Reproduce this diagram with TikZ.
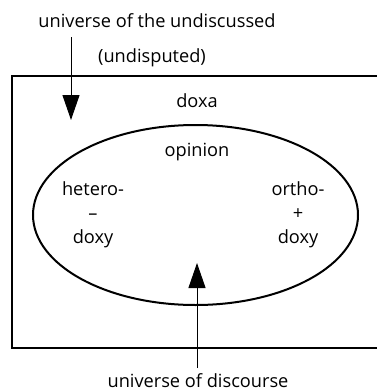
\documentclass[tikz,border=0pt]{standalone}
\usepackage{fontspec}
\setmainfont{Open Sans}
\usetikzlibrary{arrows.meta}

\begin{document}
\begin{tikzpicture}[x=1pt, y=-1pt, font=\fontsize{18.2}{24}\selectfont,
  label/.style={anchor=base, inner sep=0pt},
  doxy/.style={align=center, inner sep=0pt},
  pointer/.style={line width=1pt, -{Triangle[width=17pt, length=25pt]}}]

\useasboundingbox (0,0) rectangle (377,391);
\clip (0,0) rectangle (377,391);

% Field of doxa (right side runs off the page)
\draw[line width=2pt] (390,76) -- (12,76) -- (12,348) -- (390,348);

% Opinion (ellipse)
\draw[line width=2pt] (195.5,215) ellipse (162.5 and 90);

% Labels
\node[label] (undiscussed) at (157,27) {universe of the undiscussed};
\node[label] (undisputed) at (152,62) {(undisputed)};
\node[label] (doxa) at (197,107) {doxa};
\node[label] (opinion) at (197,156) {opinion};
\node[doxy] (hetero) at (93,215) {hetero-\\–\\doxy};
\node[doxy] (ortho) at (298,215) {ortho-\\+\\doxy};
\node[label] (discourse) at (198,387) {universe of discourse};

% Arrows
\coordinate (undstart) at (71,37);
\coordinate (undtip) at (71,120);
\draw[pointer] (undstart) -- (undtip);

\coordinate (discstart) at (197,368);
\coordinate (disctip) at (197,263);
\draw[pointer] (discstart) -- (disctip);

\end{tikzpicture}
\end{document}
